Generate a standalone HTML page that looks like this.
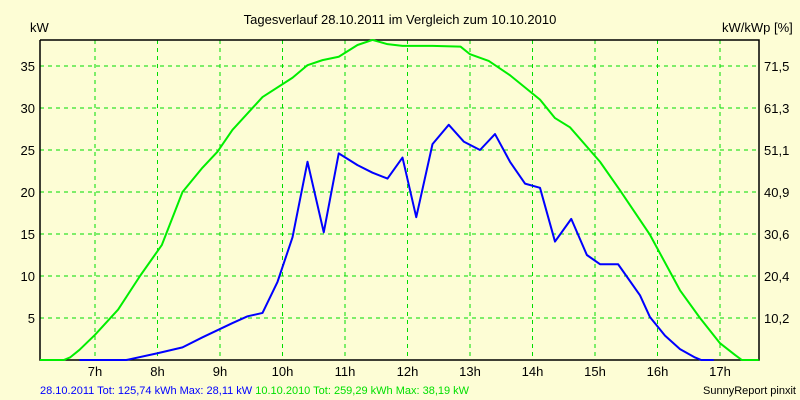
<!DOCTYPE html>
<html><head><meta charset="utf-8"><style>
body{margin:0;background:#fdfdd5;}
svg{display:block;font-family:"Liberation Sans",sans-serif;}
</style></head><body>
<svg id="chart" width="800" height="400">
<rect x="0" y="0" width="800" height="400" fill="#fdfdd5"/>
<text x="400" y="24" font-size="13" text-anchor="middle" fill="#000">Tagesverlauf 28.10.2011 im Vergleich zum 10.10.2010</text>
<text x="30" y="32" font-size="13" fill="#000">kW</text>
<text x="722" y="32" font-size="13" fill="#000">kW/kWp [%]</text>
<g id="grid"></g><g id="series"></g><g id="labels"></g>
<text x="40" y="394" font-size="11"><tspan fill="#0000ff">28.10.2011 Tot: 125,74 kWh Max: 28,11 kW </tspan><tspan fill="#00e000">10.10.2010 Tot: 259,29 kWh Max: 38,19 kW</tspan></text>
<text x="796" y="394" font-size="11" text-anchor="end" fill="#000">SunnyReport pinxit</text>
</svg>
<script>
const hourTicks=[7,8,9,10,11,12,13,14,15,16,17];
const yTicks=[5,10,15,20,25,30,35];
const rightLabels=["10,2","20,4","30,6","40,9","51,1","61,3","71,5"];
const greenT=[6.12,6.5,6.6,6.75,7.0,7.37,7.72,8.07,8.4,8.72,8.96,9.2,9.68,10.16,10.4,10.64,10.9,11.2,11.44,11.68,11.92,12.4,12.85,13.0,13.3,13.64,14.12,14.36,14.6,15.08,15.4,15.88,16.36,16.68,17.0,17.24,17.35,17.62];
const greenV=[0,0,0.3,1.2,3,6,10,13.7,20,22.9,24.8,27.4,31.3,33.6,35.1,35.7,36.1,37.5,38.1,37.6,37.4,37.4,37.3,36.4,35.6,33.9,31,28.8,27.7,23.6,20.2,14.9,8.3,5,2,0.6,0,0];
const blueT=[6.75,7.5,8.0,8.4,8.72,9.2,9.44,9.68,9.92,10.16,10.4,10.66,10.9,11.2,11.44,11.68,11.92,12.14,12.4,12.66,12.9,13.16,13.4,13.64,13.88,14.12,14.36,14.62,14.87,15.08,15.37,15.72,15.88,16.12,16.36,16.6,16.7,16.9];
const blueV=[0,0,0.8,1.5,2.7,4.4,5.2,5.6,9.3,14.6,23.6,15.2,24.6,23.2,22.3,21.6,24.1,17,25.7,28,26,25,26.9,23.6,21,20.5,14.1,16.8,12.5,11.4,11.4,7.7,5.1,2.9,1.3,0.3,0,0];
const L=40,R=759,T=40,B=360;
const xs=h=>95+(h-7)*62.5, ys=v=>B-v*8.4;
const NS="http://www.w3.org/2000/svg";
function mk(tag,attrs,parent){const e=document.createElementNS(NS,tag);for(const k in attrs)e.setAttribute(k,attrs[k]);parent.appendChild(e);return e;}
const g=document.getElementById('grid'),s=document.getElementById('series'),lb=document.getElementById('labels');
hourTicks.forEach(h=>{
 const l=mk('line',{x1:xs(h),x2:xs(h),y1:T,y2:B,stroke:'#00dd00','stroke-dasharray':'4,4'},g);
 
 
 const t=mk('text',{x:xs(h),y:376,'font-size':13,'text-anchor':'middle'},lb);t.textContent=h+'h';
 
 
});
yTicks.forEach((v,i)=>{
 const l=mk('line',{x1:L,x2:R,y1:ys(v),y2:ys(v),stroke:'#00dd00','stroke-dasharray':'4,4'},g);
 
 
 const t=mk('text',{x:35,y:ys(v)+5,'font-size':13,'text-anchor':'end'},lb);t.textContent=v;
 
 
 const t2=mk('text',{x:764,y:ys(v)+5,'font-size':13},lb);t2.textContent=rightLabels[i];
 
 
});
const ax=mk('path',{d:`M${L},${T}V${B}H${R}V${T}H${L}`,fill:'none',stroke:'#000','stroke-width':1.5},g);


function line(T_,V,c,name){
 const p=mk('polyline',{points:T_.map((t,i)=>xs(t)+','+ys(V[i])).join(' '),fill:'none',stroke:c,'stroke-width':2,'stroke-linejoin':'round'},s);
 
 
}
line(greenT,greenV,'#00ee00','series-10-10-2010');
line(blueT,blueV,'#0000ff','series-28-10-2011');
</script>
</body></html>
